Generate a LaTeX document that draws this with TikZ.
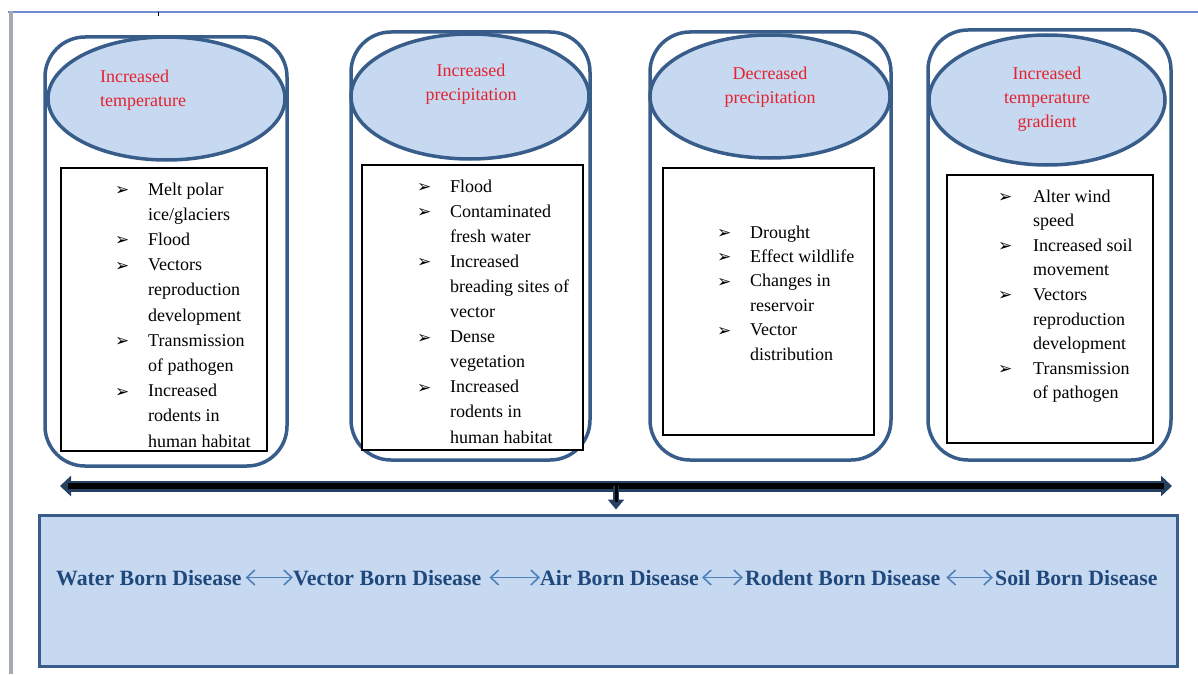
\documentclass[tikz,border=0pt]{standalone}
\usepackage{fontspec}
\setmainfont{Liberation Serif}
\newfontfamily\symfont{DejaVu Sans}
\usetikzlibrary{arrows.meta,shapes.geometric}

\definecolor{shapeline}{RGB}{56,93,138}
\definecolor{shapefill}{RGB}{198,217,241}
\definecolor{headred}{RGB}{228,34,46}
\definecolor{diseaseblue}{RGB}{31,73,125}
\definecolor{linkblue}{RGB}{79,129,189}
\definecolor{framegray}{RGB}{165,170,180}
\definecolor{frameblue}{RGB}{112,140,208}
\definecolor{barblue}{RGB}{38,64,100}

% arrowhead bullet used in the lists
\newcommand{\bul}{{\symfont\fontsize{17}{17}\selectfont\raisebox{-0.5pt}{➢}}}

\tikzset{
  colframe/.style={rectangle, draw=shapeline, line width=3.5pt, rounded corners=40pt,
    inner sep=0pt, minimum width=#1},
  headoval/.style={ellipse, draw=shapeline, fill=shapefill, line width=3.5pt, inner sep=0pt},
  listbox/.style={rectangle, draw=black, line width=1.8pt, fill=white, inner sep=0pt},
  headtext/.style={inner sep=0pt, text=headred, font=\fontsize{18}{24}\selectfont},
  listtext/.style={inner sep=0pt, anchor=base west, font=\fontsize{18}{#1}\selectfont},
  disease/.style={inner sep=0pt, anchor=base west, text=diseaseblue, text height=15pt, text depth=0pt,
    font=\bfseries\fontsize{21.8}{24}\selectfont},
  link/.style={draw=linkblue, line width=1.6pt,
    {Straight Barb[length=8pt,width=15pt]}-{Straight Barb[length=8pt,width=15pt]}},
  barouter/.style={draw=barblue, line width=11pt},
  barinner/.style={draw=black, line width=6.5pt},
}

\begin{document}
\begin{tikzpicture}[x=1pt,y=-1pt]
\useasboundingbox (0,0) rectangle (1198,674);

% page frame
\draw[frameblue, line width=2pt] (8,12.5) -- (1198,12.5);
\draw[framegray, line width=4pt] (10.5,11.5) -- (10.5,674);
\draw[black, line width=1.2pt] (158.5,12) -- (158.5,16);

% ---- column 1 ----
\node[colframe=242pt, minimum height=429pt] (c1) at (166,251.5) {};
\node[headoval, minimum width=237pt, minimum height=123pt] (e1) at (166.5,98.5) {};
\node[headtext, anchor=base west] (t1) at (100,83)
  {\begin{tabular}[t]{@{}l@{}}Increased\\temperature\end{tabular}};
\node[listbox, minimum width=206pt, minimum height=283pt] (b1) at (164,309.5) {};
\node[listtext=25.2] (l1) at (115,195) {\begin{tabular}[t]{@{}p{33pt}@{}l@{}}
  \bul & Melt polar\\ & ice/glaciers\\
  \bul & Flood\\
  \bul & Vectors\\ & reproduction\\ & development\\
  \bul & Transmission\\ & of pathogen\\
  \bul & Increased\\ & rodents in\\ & human habitat
\end{tabular}};

% ---- column 2 ----
\node[colframe=239pt, minimum height=428pt] (c2) at (470.5,246) {};
\node[headoval, minimum width=238pt, minimum height=125pt] (e2) at (470,96.5) {};
\node[headtext, anchor=base] (t2) at (471,77)
  {\begin{tabular}[t]{@{}c@{}}Increased\\precipitation\end{tabular}};
\node[listbox, minimum width=221pt, minimum height=285pt] (b2) at (472.5,307.5) {};
\node[listtext=25.1] (l2) at (417,192) {\begin{tabular}[t]{@{}p{33pt}@{}l@{}}
  \bul & Flood\\
  \bul & Contaminated\\ & fresh water\\
  \bul & Increased\\ & breading sites of\\ & vector\\
  \bul & Dense\\ & vegetation\\
  \bul & Increased\\ & rodents in\\ & human habitat
\end{tabular}};

% ---- column 3 ----
\node[colframe=241pt, minimum height=428pt] (c3) at (770.5,246) {};
\node[headoval, minimum width=240pt, minimum height=123pt] (e3) at (770,96.5) {};
\node[headtext, anchor=base] (t3) at (770,80)
  {\begin{tabular}[t]{@{}c@{}}Decreased\\precipitation\end{tabular}};
\node[listbox, minimum width=211pt, minimum height=267pt] (b3) at (768.5,301.5) {};
\node[listtext=24.4] (l3) at (717,238) {\begin{tabular}[t]{@{}p{33pt}@{}l@{}}
  \bul & Drought\\
  \bul & Effect wildlife\\
  \bul & Changes in\\ & reservoir\\
  \bul & Vector\\ & distribution
\end{tabular}};

% ---- column 4 ----
\node[colframe=243pt, minimum height=430pt] (c4) at (1049.5,245) {};
\node[headoval, minimum width=236pt, minimum height=130pt] (e4) at (1047,100) {};
\node[headtext, anchor=base] (t4) at (1047,80)
  {\begin{tabular}[t]{@{}c@{}}Increased\\temperature\\gradient\end{tabular}};
\node[listbox, minimum width=206pt, minimum height=268pt] (b4) at (1050,309) {};
\node[listtext=24.6] (l4) at (998,202) {\begin{tabular}[t]{@{}p{35pt}@{}l@{}}
  \bul & Alter wind\\ & speed\\
  \bul & Increased soil\\ & movement\\
  \bul & Vectors\\ & reproduction\\ & development\\
  \bul & Transmission\\ & of pathogen
\end{tabular}};

% ---- disease panel ----
\node[rectangle, draw=shapeline, fill=shapefill, line width=3pt, inner sep=0pt,
  minimum width=1138pt, minimum height=151pt] (panel) at (608,590.5) {};

\node[disease] (water)  at (56,585)  {Water Born Disease};
\node[disease] (vector) at (293,585) {Vector Born Disease};
\node[disease] (air)    at (540,585) {Air Born Disease};
\node[disease] (rodent) at (745,585) {Rodent Born Disease};
\node[disease] (soil)   at (995,585) {Soil Born Disease};

\draw[link] ([xshift=4pt]water.east)  -- (vector.west);
\draw[link] ([xshift=8pt]vector.east) -- (air.west);
\draw[link] ([xshift=3pt]air.east)    -- ([xshift=-2pt]rodent.west);
\draw[link] ([xshift=6pt]rodent.east) -- ([xshift=-2pt]soil.west);

% ---- collecting bar and drop arrow ----
\coordinate (barL) at (60,486);
\coordinate (barR) at (1172,486);
\coordinate (drop) at (616,486);
\draw[barouter, {Triangle[length=11pt,width=20pt]}-{Triangle[length=11pt,width=20pt]}] (barL) -- (barR);
\draw[barinner, shorten <=8pt, shorten >=8pt] (barL) -- (barR);
\draw[draw=barblue, line width=6.5pt, -{Triangle[length=10pt,width=16pt]}, shorten >=4pt]
  (drop) -- (drop |- panel.north);
\draw[draw=black, line width=3pt, shorten >=12pt] (drop) -- (drop |- panel.north);
\end{tikzpicture}
\end{document}
